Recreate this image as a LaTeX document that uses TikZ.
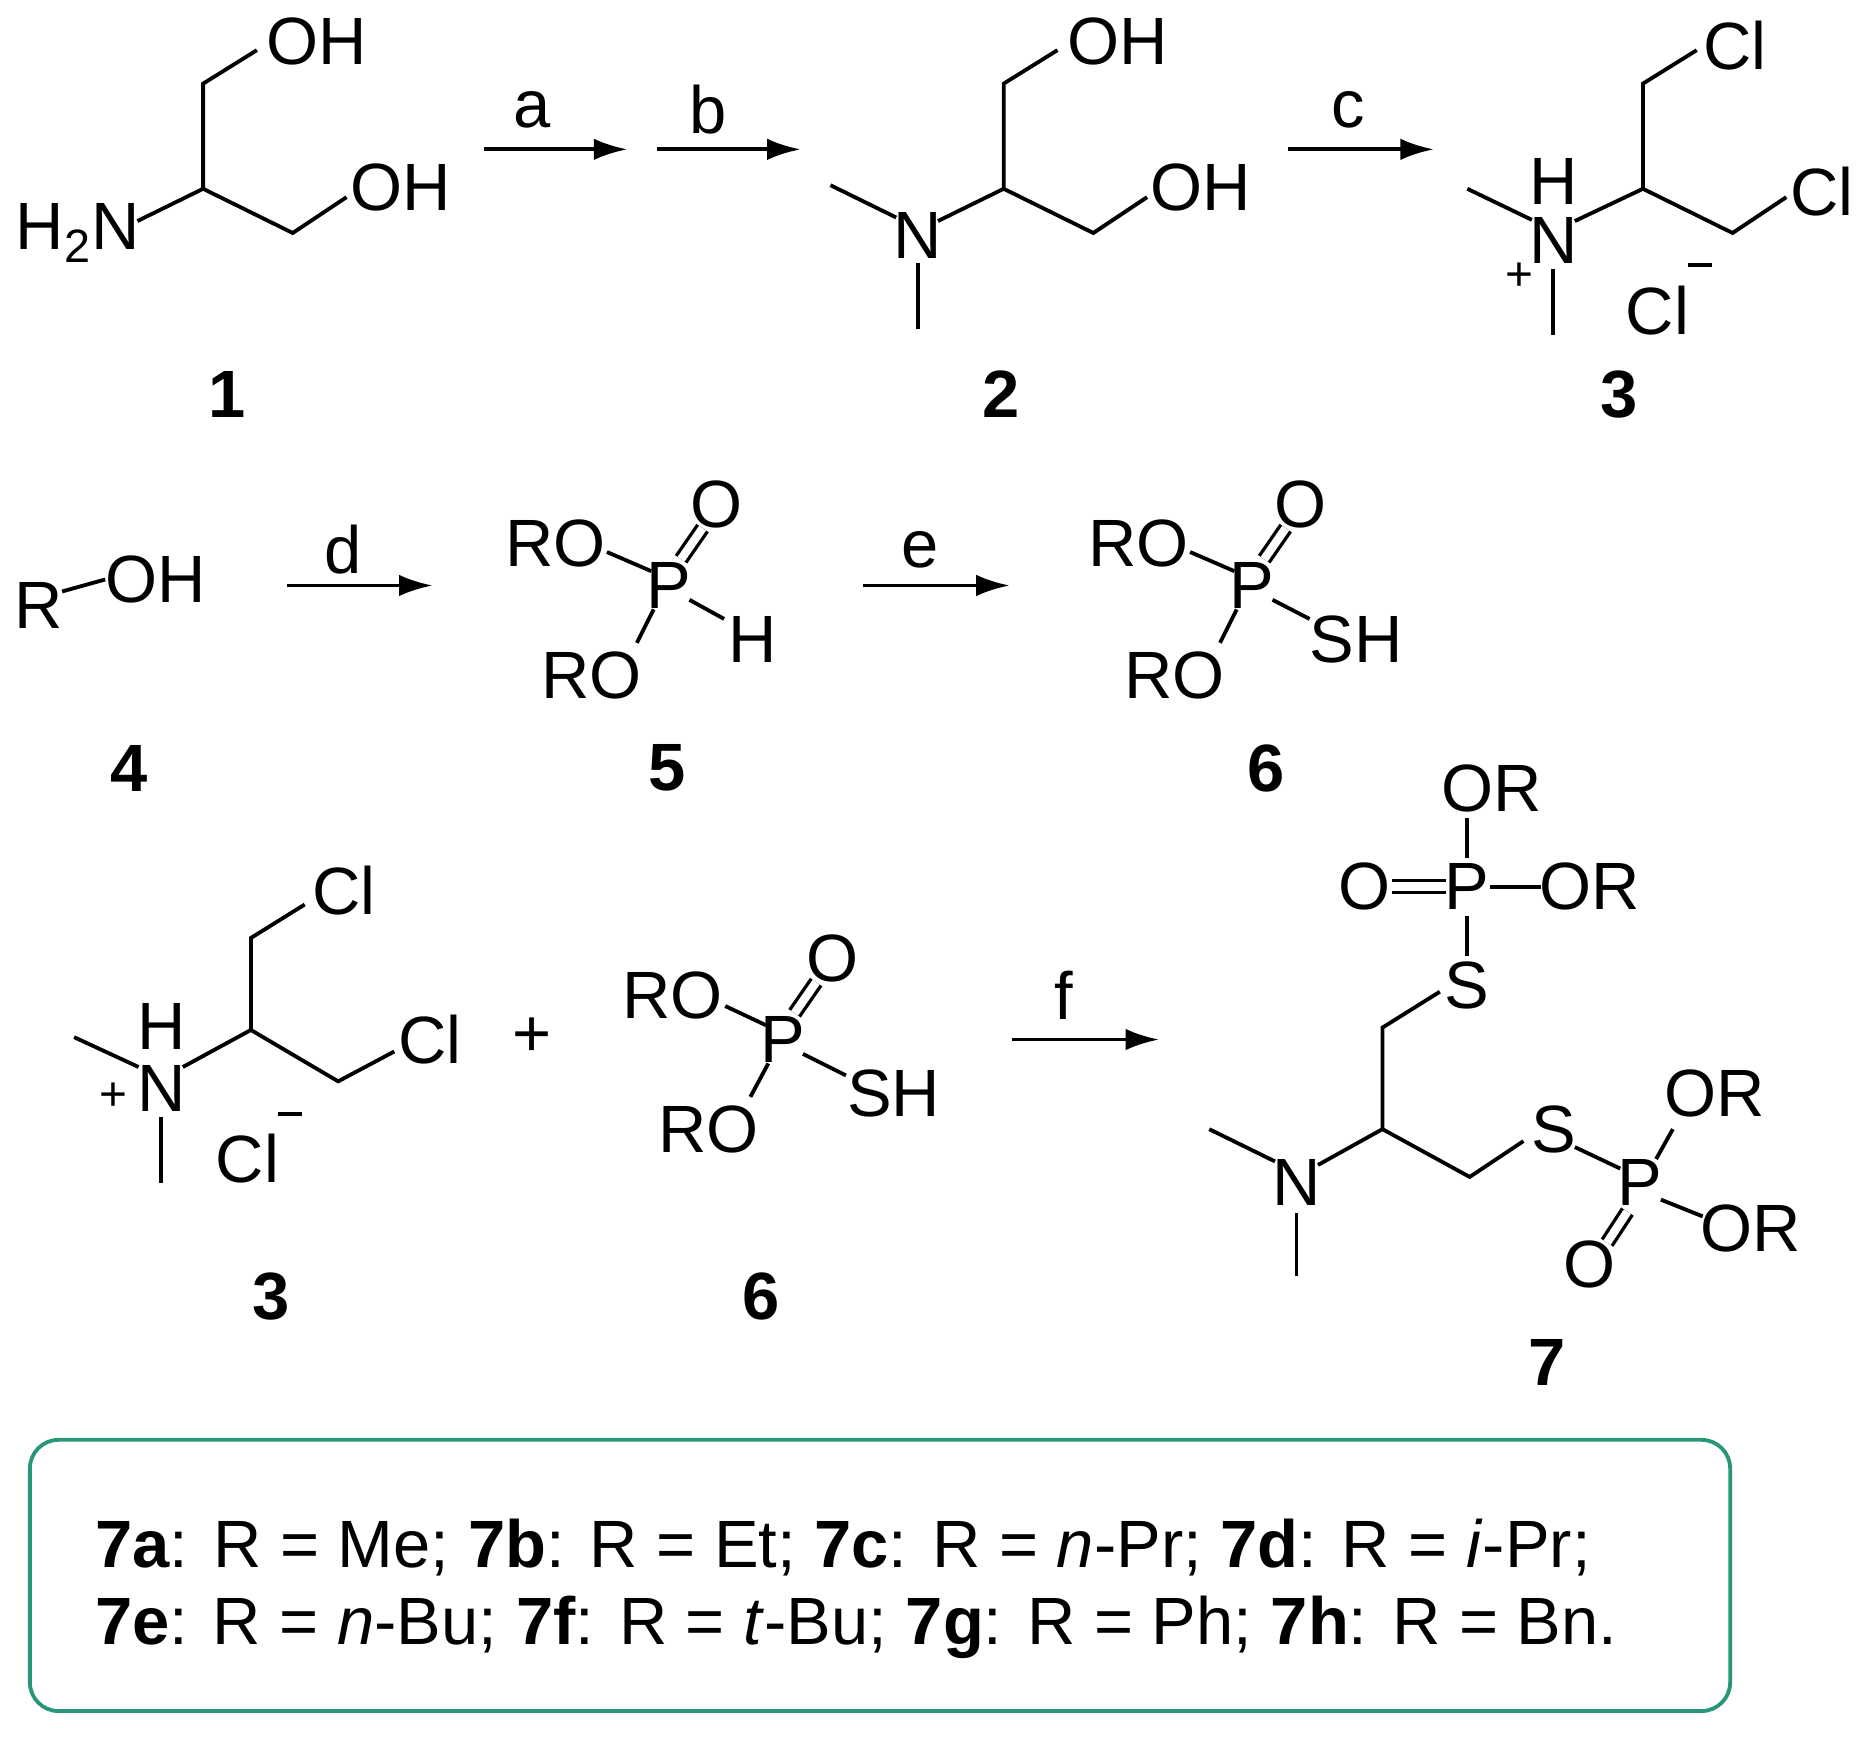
\documentclass[tikz,border=0pt]{standalone}
\usepackage{fontspec}
\setmainfont{Liberation Sans}
\usetikzlibrary{arrows.meta}
\begin{document}
\begin{tikzpicture}[x=0.5pt,y=-0.5pt,line width=1.6pt,
 atm/.style={inner sep=0pt,font=\fontsize{28}{32}\selectfont},
 lbl/.style={inner sep=0pt,font=\fontsize{28}{32}\selectfont\bfseries},
 arr/.style={-{Latex[length=14pt,width=9pt]}},
 dbl/.style={double distance=3.5pt,line width=1.4pt}]
\useasboundingbox (0,0) rectangle (1560,1454);
% molecule 1
\node[atm] at (65,195) {H\textsubscript{2}N};
\node[atm] at (265,35) {OH};
\node[atm] at (335,157) {OH};
\draw (115,185)--(170,158)--(170,70)--(215,42);
\draw (170,158)--(245,195)--(290,165);
\node[lbl] at (190,330) {1};
% arrows a b
\draw[arr] (405,125)--(525,125); \node[atm] at (445,92) {a};
\draw[arr] (550,125)--(670,125); \node[atm] at (593,92) {b};
% molecule 2
\node[atm] (n2) at (768,197) {N};
\node[atm] at (935,35) {OH};
\node[atm] at (1005,157) {OH};
\draw (695,155)--(750,182);
\draw (768,220)--(768,275);
\draw (785,185)--(840,158)--(840,70)--(885,42);
\draw (840,158)--(915,195)--(960,165);
\node[lbl] at (838,330) {2};
\draw[arr] (1078,125)--(1200,125); \node[atm] at (1128,92) {c};
% molecule 3
\node[atm] at (1300,201) {N};
\node[atm] at (1300,152) {H};
\node[atm,font=\fontsize{20}{22}\selectfont] at (1272,232) {+};
\draw (1228,158)--(1282,184);
\draw (1300,225)--(1300,280);
\draw (1318,185)--(1375,158)--(1375,70)--(1420,42);
\draw (1375,158)--(1450,195)--(1495,165);
\node[atm] at (1452,38) {Cl};
\node[atm] at (1525,160) {Cl};
\node[atm] at (1387,260) {Cl};
\draw (1413,222)--(1433,222);
\node[lbl] at (1355,330) {3};
% row 2
\node[atm] at (32,507) {R};
\draw (52,495)--(88,485);
\node[atm] at (130,485) {OH};
\node[lbl] at (108,643) {4};
\draw[arr] (240,490)--(362,490); \node[atm] at (287,460) {d};
\foreach \dx in {0,488}{
 \begin{scope}[xshift=\dx*0.5pt]
 \node[atm] at (560,490) {P};
 \node[atm] at (465,455) {RO};
 \node[atm] at (600,422) {O};
 \node[atm] at (495,565) {RO};
 \draw (508,462)--(545,478);
 \draw[dbl] (570,468)--(588,442);
 \draw (547,510)--(533,538);
 \end{scope}}
\node[atm] at (630,535) {H}; \draw (577,502)--(606,518);
\node[atm] at (1135,535) {SH}; \draw (1065,502)--(1096,518);
\node[lbl] at (558,643) {5};
\node[lbl] at (1060,643) {6};
\draw[arr] (722,490)--(845,490); \node[atm] at (770,460) {e};
% row 3: 3
\node[atm] at (135,911) {N};
\node[atm] at (135,859) {H};
\node[atm,font=\fontsize{20}{22}\selectfont] at (95,918) {+};
\draw (62,868)--(116,893);
\draw (135,935)--(135,990);
\draw (153,893)--(210,862)--(210,785)--(255,757);
\draw (210,862)--(283,905)--(330,880);
\node[atm] at (288,745) {Cl};
\node[atm] at (360,870) {Cl};
\node[atm] at (207,970) {Cl};
\draw (233,932)--(253,932);
\node[lbl] at (227,1085) {3};
\node[atm] at (445,868) {+};
% 6
\node[atm] at (655,870) {P};
\node[atm] at (563,833) {RO};
\node[atm] at (697,802) {O};
\node[atm] at (593,945) {RO};
\node[atm] at (748,915) {SH};
\draw (607,842)--(641,858);
\draw[dbl] (665,848)--(683,822);
\draw (643,890)--(628,918);
\draw (672,882)--(708,900);
\node[lbl] at (637,1085) {6};
\draw[arr] (847,870)--(970,870); \node[atm] at (890,833) {f};
% 7
\node[atm] at (1085,990) {N};
\draw (1012,945)--(1067,972);
\draw (1085,1015)--(1085,1068);
\draw (1103,975)--(1157,945)--(1157,860)--(1205,830);
\draw (1157,945)--(1230,985)--(1275,955);
\node[atm] at (1228,825) {S};
\node[atm] at (1228,742) {P};
\node[atm] at (1142,742) {O};
\draw[dbl] (1165,742)--(1210,742);
\node[atm] at (1330,742) {OR};
\draw (1247,742)--(1290,742);
\node[atm] at (1248,660) {OR};
\draw (1228,685)--(1228,718);
\draw (1228,767)--(1228,800);
\node[atm] at (1300,945) {S};
\node[atm] at (1372,990) {P};
\draw (1318,960)--(1356,978);
\node[atm] at (1435,915) {OR};
\draw (1386,970)--(1400,945);
\node[atm] at (1465,1028) {OR};
\draw (1390,1004)--(1425,1018);
\node[atm] at (1330,1058) {O};
\draw[dbl] (1362,1014)--(1345,1040);
\node[lbl] at (1295,1140) {7};
% box
\draw[color={rgb,255:red,40;green,150;blue,120},line width=1.6pt,rounded corners=12pt] (25,1205) rectangle (1448,1432);
\node[atm,anchor=west] at (78,1295) {\textbf{7a}: R = Me; \textbf{7b}: R = Et; \textbf{7c}: R = \textit{n}-Pr; \textbf{7d}: R = \textit{i}-Pr;};
\node[atm,anchor=west] at (78,1362) {\textbf{7e}: R = \textit{n}-Bu; \textbf{7f}: R = \textit{t}-Bu; \textbf{7g}: R = Ph; \textbf{7h}: R = Bn.};
\end{tikzpicture}
\end{document}
